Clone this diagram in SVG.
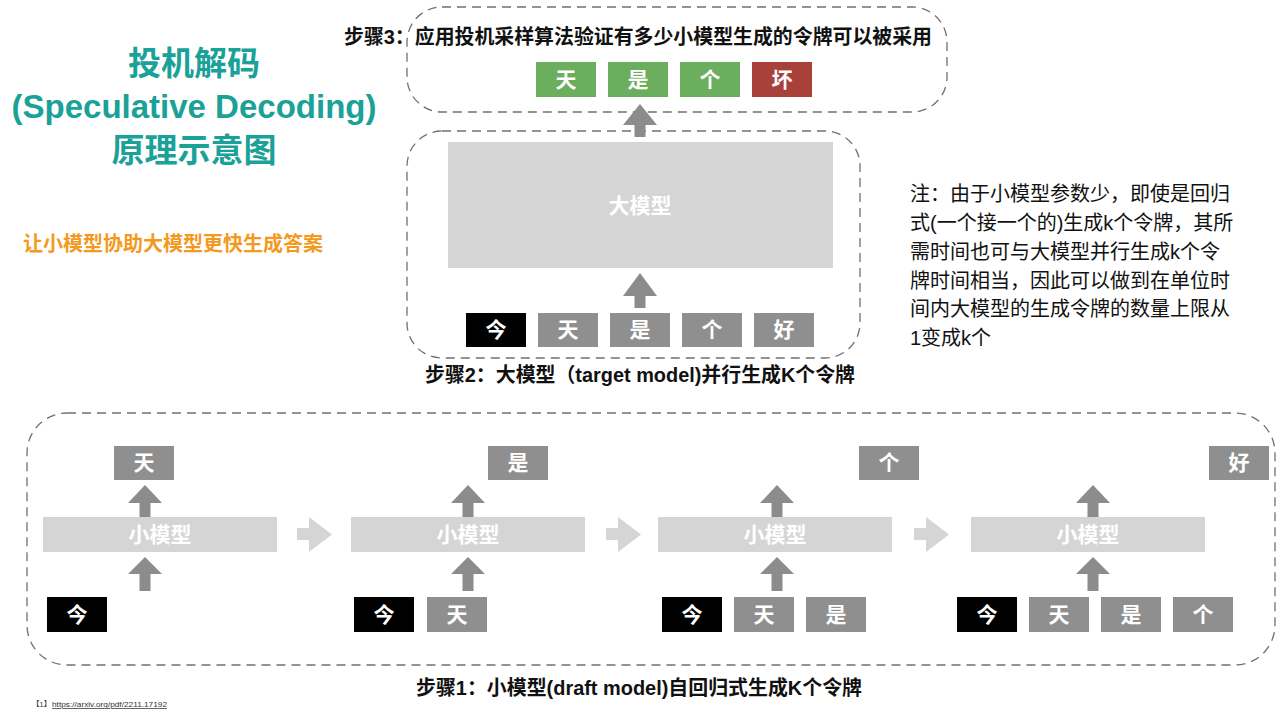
<svg xmlns="http://www.w3.org/2000/svg" width="1280" height="720" viewBox="0 0 1280 720">
<style>
text{font-family:"Liberation Sans","Noto Sans CJK SC",sans-serif}
.title{font-size:33px;font-weight:bold;fill:#1AA198;text-anchor:middle}
.sub{font-size:20px;font-weight:bold;fill:#F39A1E}
.step{font-size:20px;font-weight:bold;fill:#111}
.note{font-size:20px;fill:#111}
.frame{fill:none;stroke:#707070;stroke-width:1.3;stroke-dasharray:9 6}
.tok{fill:#8F8F8F}
.tok0{fill:#000}
.ok{fill:#6AAE5E}
.bad{fill:#A8413A}
.tt{font-size:21px;font-weight:bold;fill:#fff;text-anchor:middle}
.model{fill:#D5D5D5}
.mt{font-size:21px;font-weight:bold;fill:#fff;text-anchor:middle}
.up{fill:#8C8C8C}
.rt{fill:#D5D5D5}
.foot{font-size:7.5px;fill:#333}
</style>

<g id="title">
<text class="title" x="194" y="75">投机解码</text>
<text class="title" x="194" y="118">(Speculative Decoding)</text>
<text class="title" x="194" y="162">原理示意图</text>
<text class="sub" x="23" y="251">让小模型协助大模型更快生成答案</text>
</g>

<g id="note">
<text class="note" x="910" y="201">注：由于小模型参数少，即使是回归</text>
<text class="note" x="910" y="230">式(一个接一个的)生成k个令牌，其所</text>
<text class="note" x="910" y="259">需时间也可与大模型并行生成k个令</text>
<text class="note" x="910" y="288">牌时间相当，因此可以做到在单位时</text>
<text class="note" x="910" y="316">间内大模型的生成令牌的数量上限从</text>
<text class="note" x="910" y="345">1变成k个</text>
</g>

<g id="step3">
<rect class="frame" x="407" y="7" width="540" height="105" rx="35" ry="35"/>
<text class="step" x="344" y="44" textLength="588" lengthAdjust="spacingAndGlyphs">步骤3：应用投机采样算法验证有多少小模型生成的令牌可以被采用</text>
<g id="s3-t1"><rect class="ok" x="536" y="62" width="60" height="35"/><text class="tt" x="566" y="87">天</text></g>
<g id="s3-t2"><rect class="ok" x="608" y="62" width="60" height="35"/><text class="tt" x="638" y="87">是</text></g>
<g id="s3-t3"><rect class="ok" x="680" y="62" width="60" height="35"/><text class="tt" x="710" y="87">个</text></g>
<g id="s3-t4"><rect class="bad" x="752" y="62" width="60" height="35"/><text class="tt" x="782" y="87">坏</text></g>
</g>

<g id="step2">
<rect class="frame" x="407" y="131" width="453" height="227" rx="35" ry="35"/>
<g id="big-model"><rect class="model" x="448" y="142" width="385" height="126"/><text class="mt" x="640" y="213">大模型</text></g>
<g id="s2-t1"><rect class="tok0" x="466" y="313" width="60" height="34"/><text class="tt" x="496" y="337">今</text></g>
<g id="s2-t2"><rect class="tok" x="538" y="313" width="60" height="34"/><text class="tt" x="568" y="337">天</text></g>
<g id="s2-t3"><rect class="tok" x="610" y="313" width="60" height="34"/><text class="tt" x="640" y="337">是</text></g>
<g id="s2-t4"><rect class="tok" x="682" y="313" width="60" height="34"/><text class="tt" x="712" y="337">个</text></g>
<g id="s2-t5"><rect class="tok" x="754" y="313" width="60" height="34"/><text class="tt" x="784" y="337">好</text></g>
<text class="step" x="425" y="382" textLength="430" lengthAdjust="spacingAndGlyphs">步骤2：大模型（target model)并行生成K个令牌</text>
</g>

<g id="step1">
<rect class="frame" x="27" y="413" width="1248" height="252" rx="40" ry="40"/>
<text class="step" x="416" y="695" textLength="446" lengthAdjust="spacingAndGlyphs">步骤1：小模型(draft model)自回归式生成K个令牌</text>
<g id="m1"><rect class="model" x="43" y="517" width="234" height="35"/><text class="mt" x="160" y="542">小模型</text></g>
<g id="m2"><rect class="model" x="351" y="517" width="234" height="35"/><text class="mt" x="468" y="542">小模型</text></g>
<g id="m3"><rect class="model" x="658" y="517" width="234" height="35"/><text class="mt" x="775" y="542">小模型</text></g>
<g id="m4"><rect class="model" x="971" y="517" width="234" height="35"/><text class="mt" x="1088" y="542">小模型</text></g>
<g id="o1"><rect class="tok" x="114" y="446" width="60" height="34"/><text class="tt" x="144" y="470">天</text></g>
<g id="o2"><rect class="tok" x="488" y="446" width="60" height="34"/><text class="tt" x="518" y="470">是</text></g>
<g id="o3"><rect class="tok" x="859" y="446" width="60" height="34"/><text class="tt" x="889" y="470">个</text></g>
<g id="o4"><rect class="tok" x="1209" y="446" width="60" height="34"/><text class="tt" x="1239" y="470">好</text></g>
<g id="i1a"><rect class="tok0" x="47" y="597" width="60" height="35"/><text class="tt" x="77" y="622">今</text></g>
<g id="i2a"><rect class="tok0" x="354" y="597" width="60" height="35"/><text class="tt" x="384" y="622">今</text></g>
<g id="i2b"><rect class="tok" x="427" y="597" width="60" height="35"/><text class="tt" x="457" y="622">天</text></g>
<g id="i3a"><rect class="tok0" x="662" y="597" width="60" height="35"/><text class="tt" x="692" y="622">今</text></g>
<g id="i3b"><rect class="tok" x="734" y="597" width="60" height="35"/><text class="tt" x="764" y="622">天</text></g>
<g id="i3c"><rect class="tok" x="806" y="597" width="60" height="35"/><text class="tt" x="836" y="622">是</text></g>
<g id="i4a"><rect class="tok0" x="957" y="597" width="60" height="35"/><text class="tt" x="987" y="622">今</text></g>
<g id="i4b"><rect class="tok" x="1029" y="597" width="60" height="35"/><text class="tt" x="1059" y="622">天</text></g>
<g id="i4c"><rect class="tok" x="1101" y="597" width="60" height="35"/><text class="tt" x="1131" y="622">是</text></g>
<g id="i4d"><rect class="tok" x="1173" y="597" width="60" height="35"/><text class="tt" x="1203" y="622">个</text></g>
</g>

<g id="connectors">
<path class="up" d="M640,104 L657,125 L645.5,125 L645.5,137 L634.5,137 L634.5,125 L623,125 Z"/>
<path class="up" d="M640,273 L657,296 L645.5,296 L645.5,308 L634.5,308 L634.5,296 L623,296 Z"/>
<path class="up" d="M145,485 L162,503 L150.5,503 L150.5,517 L139.5,517 L139.5,503 L128,503 Z"/>
<path class="up" d="M145,557 L162,574 L150.5,574 L150.5,591 L139.5,591 L139.5,574 L128,574 Z"/>
<path class="up" d="M468,485 L485,503 L473.5,503 L473.5,517 L462.5,517 L462.5,503 L451,503 Z"/>
<path class="up" d="M468,557 L485,574 L473.5,574 L473.5,591 L462.5,591 L462.5,574 L451,574 Z"/>
<path class="up" d="M777,485 L794,503 L782.5,503 L782.5,517 L771.5,517 L771.5,503 L760,503 Z"/>
<path class="up" d="M777,557 L794,574 L782.5,574 L782.5,591 L771.5,591 L771.5,574 L760,574 Z"/>
<path class="up" d="M1093,485 L1110,503 L1098.5,503 L1098.5,517 L1087.5,517 L1087.5,503 L1076,503 Z"/>
<path class="up" d="M1093,557 L1110,574 L1098.5,574 L1098.5,591 L1087.5,591 L1087.5,574 L1076,574 Z"/>
<path class="rt" d="M297,528 L309,528 L309,517 L332,534.5 L309,552 L309,540 L297,540 Z"/>
<path class="rt" d="M606,528 L618,528 L618,517 L641,534.5 L618,552 L618,540 L606,540 Z"/>
<path class="rt" d="M914,528 L926,528 L926,517 L949,534.5 L926,552 L926,540 L914,540 Z"/>
</g>

<g id="footnote">
<text class="foot" x="32" y="707">【1】</text>
<text class="foot" x="52" y="707" textLength="115" lengthAdjust="spacingAndGlyphs" text-decoration="underline">https://arxiv.org/pdf/2211.17192</text>
</g>
</svg>
